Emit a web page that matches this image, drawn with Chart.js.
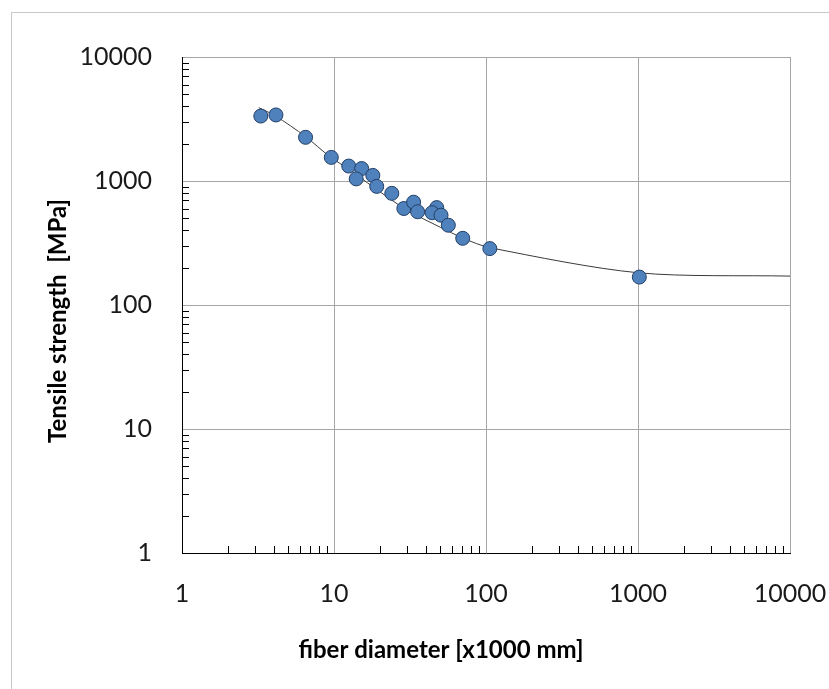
<!DOCTYPE html>
<html>
<head>
<meta charset="utf-8">
<script src="https://cdn.jsdelivr.net/npm/chart.js@4.4.1/dist/chart.umd.min.js"></script>
<style>
  html, body { margin: 0; padding: 0; background: #fff; }
  #wrap { position: relative; width: 829px; height: 689px; overflow: hidden; background: #fff; }
  #frame { position: absolute; left: 11px; top: 12px; width: 900px; height: 800px; border: 1px solid #c8c8c8; }
  #chart { position: absolute; left: 0; top: 0; }
</style>
</head>
<body>
<div id="wrap">
  <div id="frame"></div>
  <canvas id="chart" width="829" height="689"></canvas>
</div>
<script>
// measured points
const diameters = [3.3, 4.15, 6.5, 9.6, 12.5, 15.2, 14.0, 18.0, 19.1, 24.0, 28.8, 33.4, 35.5, 47.4, 44.2, 50.6, 56.5, 70.3, 106, 1020];
const strengths = [3340, 3410, 2250, 1550, 1320, 1260, 1040, 1110, 905, 795, 600, 675, 565, 610, 555, 530, 440, 345, 285, 168];

// trend curve
const fitDiameters = [3.2, 4.1, 6.5, 9.4, 12.7, 18, 30, 50, 71, 106, 1000, 10000];
const fitStrengths = [3900, 3360, 2280, 1570, 1230, 900, 585, 424, 345, 290, 182, 171];

const decadeTicks = [1, 10, 100, 1000, 10000];
const minorSteps = [2, 3, 4, 5, 6, 7, 8, 9];

const xTitle = "fiber diameter [x1000 mm]";
const yTitle = "Tensile strength  [MPa]";

const tickFont = { family: "Lato", size: 25 };
const titleFont = "bold 24px Lato";

// minor tick marks on the inside of the axes, plus the axis titles
const axisExtras = {
  id: "axisExtras",
  afterDraw(chart) {
    const { ctx, chartArea: a, scales: { x, y } } = chart;
    ctx.save();
    ctx.strokeStyle = "#000";
    ctx.lineWidth = 1;
    ctx.beginPath();
    decadeTicks.slice(0, -1).forEach(d => {
      minorSteps.forEach(m => {
        const px = Math.round(x.getPixelForValue(d * m)) + 0.5;
        ctx.moveTo(px, a.bottom);
        ctx.lineTo(px, a.bottom - 7);
        const py = Math.round(y.getPixelForValue(d * m)) + 0.5;
        ctx.moveTo(a.left, py);
        ctx.lineTo(a.left + 7, py);
      });
    });
    ctx.stroke();

    ctx.fillStyle = "#000";
    ctx.font = titleFont;
    ctx.textAlign = "center";
    ctx.textBaseline = "middle";
    ctx.fillText(xTitle, 441, 650);
    ctx.translate(58, 321);
    ctx.rotate(-Math.PI / 2);
    ctx.fillText(yTitle, 0, 0);
    ctx.restore();
  }
};

const gridColor = c => (c.tick && c.tick.value === 1) ? "rgba(0,0,0,0)" : "#a6a6a6";

new Chart(document.getElementById("chart"), {
  type: "scatter",
  data: {
    datasets: [
      {
        data: diameters.map((d, i) => ({ x: d, y: strengths[i] })),
        pointRadius: 7,
        pointBackgroundColor: "#4f81bd",
        pointBorderColor: "#223f66",
        pointBorderWidth: 1,
        order: 1
      },
      {
        data: fitDiameters.map((d, i) => ({ x: d, y: fitStrengths[i] })),
        showLine: true,
        borderColor: "#3a3a3a",
        borderWidth: 1,
        pointRadius: 0,
        tension: 0.3,
        order: 2
      }
    ]
  },
  options: {
    responsive: false,
    animation: false,
    layout: { padding: { top: 57, right: 39, left: 0, bottom: 0 } },
    plugins: { legend: { display: false }, tooltip: { enabled: false } },
    scales: {
      x: {
        type: "logarithmic",
        min: 1,
        max: 10000,
        afterBuildTicks: s => { s.ticks = decadeTicks.map(v => ({ value: v })); },
        afterFit: s => { s.height = 136; s.paddingLeft = 0; s.paddingRight = 0; },
        grid: { color: gridColor, drawTicks: false },
        border: { color: "#000", width: 1 },
        ticks: {
          font: tickFont,
          color: "#1a1a1a",
          padding: 26,
          maxRotation: 0,
          callback: v => String(v)
        }
      },
      y: {
        type: "logarithmic",
        min: 1,
        max: 10000,
        afterBuildTicks: s => { s.ticks = decadeTicks.map(v => ({ value: v })); },
        afterFit: s => { s.width = 182; s.paddingTop = 0; s.paddingBottom = 0; },
        grid: { color: gridColor, drawTicks: false },
        border: { color: "#000", width: 1 },
        ticks: {
          font: tickFont,
          color: "#1a1a1a",
          padding: 30,
          callback: v => String(v)
        }
      }
    }
  },
  plugins: [axisExtras]
});
</script>
</body>
</html>
